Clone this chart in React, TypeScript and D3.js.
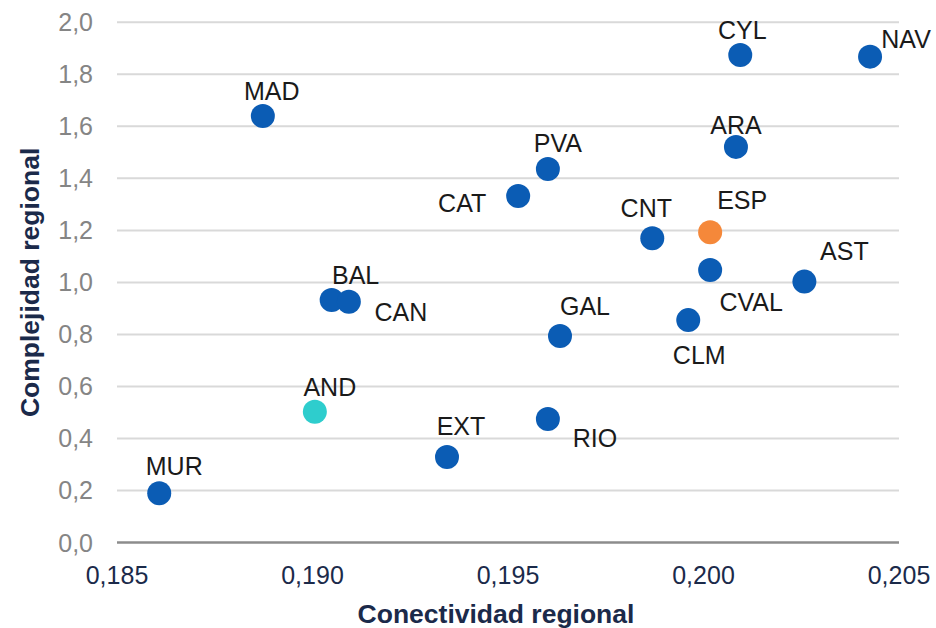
import * as d3 from "d3";

// Regional data: connectivity (x) vs complexity (y)
const regions = ["MUR", "MAD", "BAL", "CAN", "AND", "EXT", "CAT", "PVA", "RIO", "GAL", "CNT", "ESP", "CVAL", "CLM", "AST", "ARA", "CYL", "NAV"];
const conectividad = [0.18608, 0.18873, 0.19049, 0.19093, 0.19006, 0.19344, 0.19526, 0.19602, 0.19602, 0.19633, 0.19869, 0.20017, 0.20017, 0.19961, 0.20258, 0.20083, 0.20094, 0.20426];
const complejidad = [0.189, 1.64, 0.932, 0.926, 0.503, 0.329, 1.332, 1.436, 0.475, 0.794, 1.17, 1.193, 1.048, 0.855, 1.003, 1.521, 1.874, 1.868];

const xTicks = [0.185, 0.19, 0.195, 0.2, 0.205];
const yTicks = [0, 0.2, 0.4, 0.6, 0.8, 1.0, 1.2, 1.4, 1.6, 1.8, 2.0];

// label placement relative to the marker (dx, dy in px)
const labelOffsets: Record<string, [number, number]> = {
  MUR: [15, -27], MAD: [9, -25], BAL: [24, -25], CAN: [52, 10], AND: [15, -25],
  EXT: [14, -31], CAT: [-56, 7], PVA: [10, -26], RIO: [47, 19], GAL: [25, -30],
  CNT: [-6, -30], ESP: [32, -32], CVAL: [41, 32], CLM: [11, 35], AST: [40, -31],
  ARA: [0, -22], CYL: [2, -25], NAV: [36, -18],
};

const colorFor = (r: string) => (r === "ESP" ? "#F5883A" : r === "AND" ? "#2ECDCD" : "#0B5CB4");

const locale = d3.formatLocale({ decimal: ",", thousands: ".", grouping: [3], currency: ["", "€"] });
const fx = locale.format(".3f");
const fy = locale.format(".1f");

const App = () => {
  const width = 936;
  const height = 628;
  const font = "Liberation Sans, Arial, sans-serif";

  const xScale = d3.scaleLinear().domain([0.185, 0.205]).range([117, 899]);
  const yScale = d3.scaleLinear().domain([0, 2]).range([542.5, 22.3]);

  return (
    <svg width={width} height={height} style={{ position: "absolute", left: 0, top: 0, background: "#fff" }} fontFamily={font}>
      {yTicks.map((t) => (
        <g key={t}>
          <line
            x1={xScale.range()[0]}
            x2={xScale.range()[1]}
            y1={yScale(t)}
            y2={yScale(t)}
            stroke={t === 0 ? "#8C8C8C" : "#D9D9D9"}
            strokeWidth={t === 0 ? 2.5 : 2}
          />
          <text x={93} y={yScale(t)} dy="0.36em" textAnchor="end" fontSize={25} fill="#858585">
            {fy(t)}
          </text>
        </g>
      ))}
      {xTicks.map((t) => (
        <text key={t} x={xScale(t)} y={584} textAnchor="middle" fontSize={25} fill="#1B2A4A">
          {fx(t)}
        </text>
      ))}
      {regions.map((r, i) => {
        const cx = xScale(conectividad[i]);
        const cy = yScale(complejidad[i]);
        const [dx, dy] = labelOffsets[r];
        return (
          <g key={r}>
            <circle cx={cx} cy={cy} r={12} fill={colorFor(r)} />
            <text x={cx + dx} y={cy + dy} dy="0.36em" textAnchor="middle" fontSize={25} fill="#1A1A1A">
              {r}
            </text>
          </g>
        );
      })}
      <text x={496} y={623} textAnchor="middle" fontSize={26.5} fontWeight="bold" fill="#1B2A4A">
        Conectividad regional
      </text>
      <text
        transform={`translate(39,${(yScale(0) + yScale(2)) / 2}) rotate(-90)`}
        textAnchor="middle"
        fontSize={26.5}
        fontWeight="bold"
        fill="#1B2A4A"
      >
        Complejidad regional
      </text>
    </svg>
  );
};

export default App;
